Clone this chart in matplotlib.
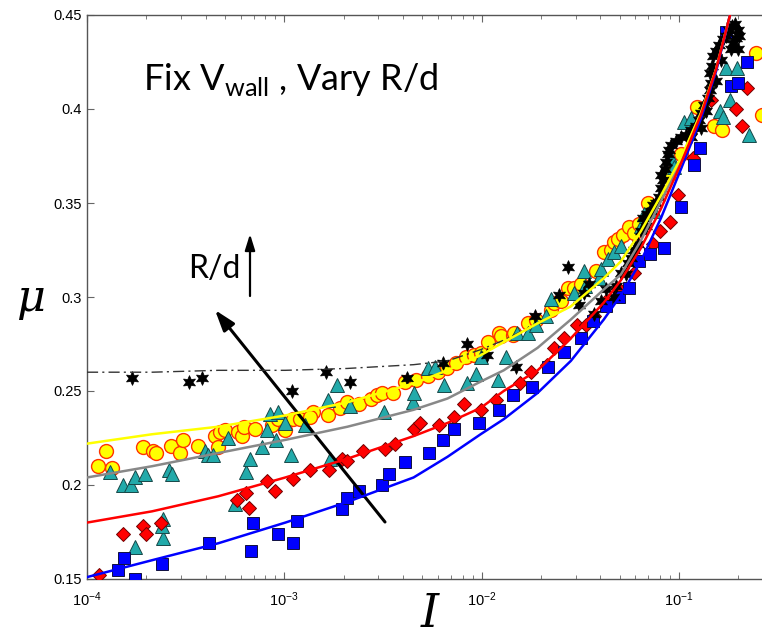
import numpy as np
import matplotlib
matplotlib.use("Agg")
import matplotlib.pyplot as plt
from matplotlib.ticker import FixedLocator, LogLocator, NullFormatter

# ---------------- data (log10 I, mu) ----------------
blue_logI = [-3.843, -3.812, -3.756, -3.619, -3.381, -3.168, -3.157, -3.030, -2.954, -2.934,
             -2.706, -2.680, -2.624, -2.503, -2.467, -2.386, -2.269, -2.198, -2.142, -2.015,
             -1.914, -1.843, -1.746, -1.665, -1.584, -1.497, -1.437, -1.371, -1.305, -1.254,
             -1.203, -1.147, -1.076, -0.990, -0.924, -0.893, -0.761, -0.736, -0.701, -0.655]
blue_mu = [0.155, 0.161, 0.150, 0.158, 0.169, 0.165, 0.180, 0.174, 0.169, 0.181,
           0.187, 0.193, 0.197, 0.200, 0.206, 0.212, 0.217, 0.224, 0.230, 0.233,
           0.240, 0.248, 0.252, 0.263, 0.271, 0.278, 0.287, 0.295, 0.300, 0.305,
           0.319, 0.323, 0.326, 0.348, 0.370, 0.379, 0.441, 0.412, 0.414, 0.425]

red_logI = [-3.939, -3.817, -3.716, -3.701, -3.624, -3.239, -3.193, -3.178, -3.086, -3.046,
            -2.954, -2.868, -2.772, -2.706, -2.680, -2.599, -2.492, -2.437, -2.345, -2.310,
            -2.218, -2.142, -2.091, -2.005, -1.929, -1.807, -1.751, -1.670, -1.635, -1.584,
            -1.518, -1.472, -1.431, -1.371, -1.305, -1.228, -1.132, -1.096, -1.046, -1.005,
            -0.929, -0.838, -0.711, -0.680, -0.655]
red_mu = [0.152, 0.174, 0.178, 0.174, 0.180, 0.192, 0.196, 0.188, 0.202, 0.197,
          0.203, 0.208, 0.208, 0.214, 0.213, 0.218, 0.219, 0.222, 0.230, 0.233,
          0.232, 0.236, 0.243, 0.240, 0.245, 0.254, 0.260, 0.264, 0.273, 0.278,
          0.285, 0.285, 0.290, 0.298, 0.304, 0.313, 0.328, 0.335, 0.340, 0.354,
          0.374, 0.405, 0.400, 0.391, 0.411]

teal_logI = [-3.883, -3.817, -3.777, -3.756, -3.706, -3.584, -3.569, -3.756, -3.614, -3.619,
             -3.614, -3.401, -3.386, -3.360, -3.284, -3.249, -3.193, -3.173, -3.112, -3.086,
             -3.071, -3.030, -3.041, -2.995, -2.964, -2.893, -2.777, -2.731, -2.766, -2.665,
             -2.497, -2.350, -2.345, -2.274, -2.234, -2.193, -2.076, -2.030, -2.005, -1.919,
             -1.878, -1.822, -1.766, -1.726, -1.675, -1.650, -1.533, -1.482, -1.477, -1.406,
             -1.396, -1.360, -1.330, -1.294, -1.193, -1.178, -1.127, -1.041, -1.025, -0.975,
             -0.939, -0.792, -0.777, -0.761, -0.741, -0.706, -0.645]
teal_mu = [0.207, 0.200, 0.200, 0.204, 0.206, 0.208, 0.206, 0.167, 0.172, 0.178,
           0.182, 0.218, 0.216, 0.216, 0.225, 0.190, 0.207, 0.214, 0.220, 0.229,
           0.238, 0.239, 0.224, 0.233, 0.216, 0.232, 0.245, 0.253, 0.214, 0.242,
           0.239, 0.244, 0.249, 0.262, 0.263, 0.253, 0.254, 0.259, 0.268, 0.256,
           0.268, 0.281, 0.281, 0.285, 0.290, 0.299, 0.302, 0.314, 0.306, 0.310,
           0.315, 0.320, 0.324, 0.327, 0.338, 0.344, 0.346, 0.374, 0.369, 0.393,
           0.395, 0.399, 0.396, 0.422, 0.405, 0.422, 0.386]

yellow_logI = [-3.944, -3.904, -3.873, -3.716, -3.665, -3.650, -3.574, -3.528, -3.513, -3.437,
               -3.350, -3.335, -3.325, -3.299, -3.234, -3.213, -3.203, -3.147, -3.061, -3.030,
               -2.995, -2.954, -2.919, -2.853, -2.868, -2.777, -2.716, -2.680, -2.619, -2.563,
               -2.528, -2.503, -2.447, -2.386, -2.335, -2.274, -2.223, -2.173, -2.132, -2.081,
               -2.041, -2.005, -1.970, -1.914, -1.904, -1.843, -1.838, -1.766, -1.726, -1.650,
               -1.635, -1.599, -1.563, -1.533, -1.497, -1.421, -1.381, -1.345, -1.330, -1.310,
               -1.284, -1.254, -1.228, -1.203, -1.157, -1.041, -0.990, -0.909, -0.822, -0.782,
               -0.609, -0.579]
yellow_mu = [0.210, 0.218, 0.209, 0.220, 0.218, 0.217, 0.221, 0.217, 0.224, 0.221,
             0.226, 0.220, 0.228, 0.229, 0.228, 0.226, 0.231, 0.230, 0.232, 0.235,
             0.229, 0.235, 0.235, 0.239, 0.236, 0.237, 0.241, 0.244, 0.243, 0.246,
             0.248, 0.249, 0.249, 0.255, 0.256, 0.258, 0.260, 0.262, 0.265, 0.268,
             0.269, 0.270, 0.276, 0.281, 0.279, 0.280, 0.281, 0.286, 0.288, 0.293,
             0.297, 0.298, 0.305, 0.305, 0.307, 0.314, 0.324, 0.325, 0.329, 0.331,
             0.333, 0.337, 0.334, 0.339, 0.350, 0.366, 0.376, 0.401, 0.391, 0.389,
             0.430, 0.397]

black_logI = [-3.772, -3.482, -3.416, -2.959, -2.787, -2.665, -2.376, -2.198, -2.076, -1.975,
              -1.827, -1.731, -1.609, -1.563, -1.508, -1.482, -1.457, -1.431, -1.396, -1.371,
              -1.330, -1.294, -1.259, -1.244, -1.228, -1.208, -1.193, -1.183, -1.162, -1.142,
              -1.117, -1.102, -1.091, -1.081, -1.071, -1.066, -1.051, -1.041, -1.015, -0.990,
              -0.964, -0.939, -0.914, -0.898, -0.888, -0.873, -0.853, -0.843, -0.838, -0.843,
              -0.832, -0.827, -0.812, -0.797, -0.777, -0.761, -0.746, -0.731, -0.716, -0.701,
              -0.711, -0.726, -0.701, -0.736, -0.695,
              -1.168, -1.132, -1.091, -1.056, -0.939, -0.888, -0.812, -0.787, -0.863, -1.269,
              -1.320]
black_mu = [0.257, 0.255, 0.257, 0.250, 0.260, 0.255, 0.257, 0.265, 0.275, 0.269,
            0.263, 0.290, 0.301, 0.316, 0.296, 0.302, 0.307, 0.291, 0.298, 0.304,
            0.300, 0.313, 0.318, 0.321, 0.325, 0.328, 0.335, 0.342, 0.344, 0.346,
            0.350, 0.353, 0.358, 0.362, 0.368, 0.372, 0.378, 0.381, 0.383, 0.385,
            0.386, 0.389, 0.391, 0.394, 0.398, 0.402, 0.406, 0.410, 0.414, 0.419,
            0.423, 0.428, 0.431, 0.434, 0.437, 0.439, 0.442, 0.444, 0.445, 0.442,
            0.438, 0.435, 0.432, 0.432, 0.439,
            0.338, 0.349, 0.365, 0.376, 0.385, 0.390, 0.415, 0.426, 0.399, 0.312,
            0.306]

# fitted curves
fit_logI = [-4.000, -3.670, -3.335, -2.995, -2.680, -2.345, -2.173, -2.005, -1.888, -1.716,
            -1.548, -1.381, -1.294, -1.193, -1.091, -0.990, -0.888, -0.812, -0.741]
fit_blue = [0.151, 0.160, 0.169, 0.180, 0.191, 0.204, 0.215, 0.227, 0.235, 0.249,
            0.266, 0.288, 0.301, 0.319, 0.342, 0.368, 0.395, 0.420, 0.450]
fit_red = [0.180, 0.186, 0.194, 0.204, 0.214, 0.226, 0.233, 0.241, 0.250, 0.261,
           0.278, 0.297, 0.309, 0.326, 0.347, 0.371, 0.397, 0.421, 0.450]
fit_gray = [0.204, 0.210, 0.217, 0.224, 0.231, 0.240, 0.246, 0.255, 0.261, 0.273,
            0.288, 0.304, 0.312, 0.330, 0.351, 0.373, 0.398, 0.421, 0.450]
fit_yellow = [0.222, 0.227, 0.231, 0.237, 0.244, 0.254, 0.261, 0.269, 0.276, 0.286,
              0.295, 0.310, 0.319, 0.335, 0.354, 0.374, 0.398, 0.421, 0.450]
fit_black = [0.260, 0.260, 0.261, 0.261, 0.262, 0.264, 0.266, 0.272, 0.277, 0.286,
             0.295, 0.310, 0.319, 0.335, 0.354, 0.374, 0.398, 0.421, 0.450]

ytick_vals = [0.15, 0.2, 0.25, 0.3, 0.35, 0.4, 0.45]
ytick_labels = ["0.15", "0.2", "0.25", "0.3", "0.35", "0.4", "0.45"]
xtick_vals = [1e-4, 1e-3, 1e-2, 1e-1]
xtick_labels = [r"$\mathregular{10^{-4}}$", r"$\mathregular{10^{-3}}$",
                r"$\mathregular{10^{-2}}$", r"$\mathregular{10^{-1}}$"]

# ---------------- figure ----------------
W, H = 762, 638
fig = plt.figure(figsize=(W / 100, H / 100), dpi=100)
ax = fig.add_axes([87 / W, (H - 579) / H, 676 / W, 564 / H])

def P(v):
    return 10.0 ** np.asarray(v)

kw = dict(linestyle="none", zorder=3)
ax.plot(P(yellow_logI), yellow_mu, marker="o", ms=10, mfc="#ffff00", mec="#ff3300", mew=1.0, **kw)
ax.plot(P(teal_logI), teal_mu, marker="^", ms=9.5, mfc="#22aaaa", mec="#174848", mew=0.7, **kw)
ax.plot(P(red_logI), red_mu, marker="D", ms=7.5, mfc="#ff0000", mec="#700000", mew=0.7, **kw)
ax.plot(P(blue_logI), blue_mu, marker="s", ms=8.5, mfc="#0000ff", mec="#101040", mew=0.7, **kw)
ax.plot(P(black_logI), black_mu, marker=(6, 1, 0), ms=10, mfc="black", mec="black", mew=0.5, **kw)

fx = P(fit_logI)
ax.plot(fx, fit_black, color="#333333", lw=1.0, dashes=[8, 3, 1.5, 3], zorder=4)
ax.plot(fx, fit_gray, color="#888888", lw=1.8, zorder=5)
ax.plot(fx, fit_yellow, color="#ffff00", lw=1.8, zorder=5)
ax.plot(fx, fit_blue, color="#0000ff", lw=1.8, zorder=5)
ax.plot(fx, fit_red, color="#ff0000", lw=1.8, zorder=6)

ax.set_xscale("log")
ax.set_xlim(1e-4, 10 ** -0.574)
ax.set_ylim(0.15, 0.45)
ax.set_yticks(ytick_vals)
ax.set_yticklabels(ytick_labels)
ax.xaxis.set_major_locator(FixedLocator(xtick_vals))
ax.set_xticklabels(xtick_labels)
ax.xaxis.set_minor_locator(LogLocator(base=10, subs=np.arange(2, 10)))
ax.xaxis.set_minor_formatter(NullFormatter())
ax.spines["right"].set_visible(False)
for s in ["left", "bottom", "top"]:
    ax.spines[s].set_color("#555555")
    ax.spines[s].set_linewidth(1.0)
ax.tick_params(which="both", direction="in", top=True, right=False, color="#666666")
ax.tick_params(which="major", length=5, width=0.8, labelsize=10.5)
ax.tick_params(axis="x", which="major", pad=8)
ax.tick_params(axis="y", which="major", pad=4)
ax.tick_params(which="minor", length=3, width=0.6)
for lab in ax.get_xticklabels() + ax.get_yticklabels():
    lab.set_fontfamily("Liberation Sans")

def F(x, y):
    return (x / W, 1 - y / H)

fig.text(*F(143, 90), r"Fix V$_{\mathregular{wall}}$ , Vary R/d", fontsize=26,
         family="Lato", ha="left", va="baseline")
fig.text(*F(188, 278), "R/d", fontsize=23, family="Lato", ha="left", va="baseline")
fig.text(*F(30, 298), "μ", fontsize=32, family="DejaVu Serif", style="italic",
         ha="center", va="center")
fig.text(*F(430, 637), "I", fontsize=33, family="DejaVu Serif", style="italic",
         ha="center", va="bottom")

ax.annotate("", xy=F(215, 310), xytext=F(385, 522), xycoords="figure fraction",
            textcoords="figure fraction",
            arrowprops=dict(arrowstyle="-|>,head_length=0.9,head_width=0.3",
                            lw=2.2, color="black", mutation_scale=14, shrinkA=0, shrinkB=0))
ax.annotate("", xy=F(250, 234), xytext=F(250, 296), xycoords="figure fraction",
            textcoords="figure fraction",
            arrowprops=dict(arrowstyle="-|>,head_length=0.8,head_width=0.25",
                            lw=1.6, color="black", mutation_scale=12, shrinkA=0, shrinkB=0))

fig.savefig("out.png", dpi=100)
